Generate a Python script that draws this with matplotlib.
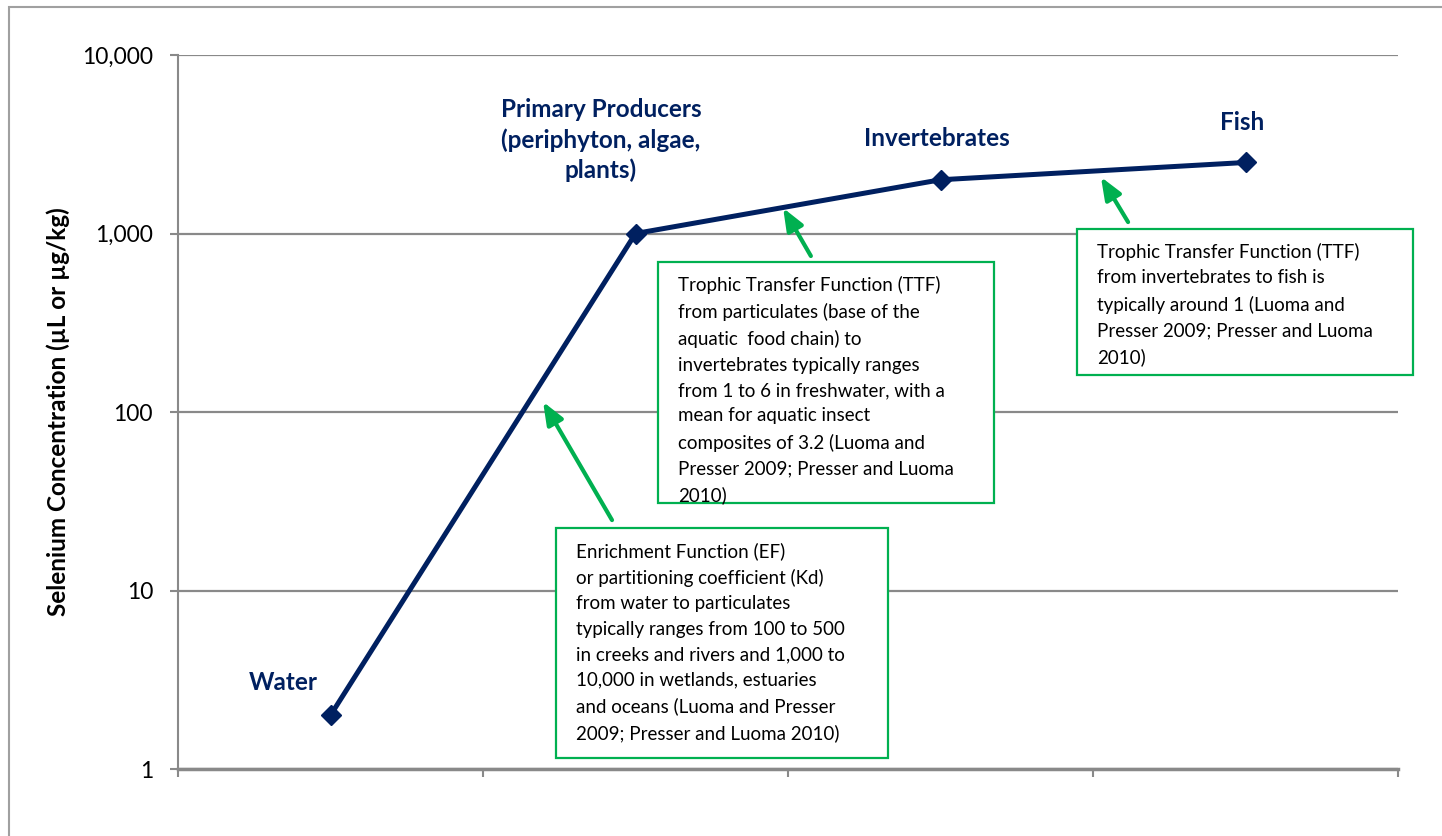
import matplotlib.pyplot as plt
from matplotlib.patches import Rectangle

# dane
stages = ["Water", "Primary Producers\n(periphyton, algae,\nplants)", "Invertebrates", "Fish"]
x_pos = [0.5, 1.5, 2.5, 3.5]
se_conc = [2, 1000, 2000, 2500]
y_ticks = [1, 10, 100, 1000, 10000]
y_ticklabels = ["1", "10", "100", "1,000", "10,000"]

ef_text = ("Enrichment Function (EF)\n"
           "or partitioning coefficient (Kd)\n"
           "from water to particulates\n"
           "typically ranges from 100 to 500\n"
           "in creeks and rivers and 1,000 to\n"
           "10,000 in wetlands, estuaries\n"
           "and oceans (Luoma and Presser\n"
           "2009; Presser and Luoma 2010)")
ttf1_text = ("Trophic Transfer Function (TTF)\n"
             "from particulates (base of the\n"
             "aquatic  food chain) to\n"
             "invertebrates typically ranges\n"
             "from 1 to 6 in freshwater, with a\n"
             "mean for aquatic insect\n"
             "composites of 3.2 (Luoma and\n"
             "Presser 2009; Presser and Luoma\n"
             "2010)")
ttf2_text = ("Trophic Transfer Function (TTF)\n"
             "from invertebrates to fish is\n"
             "typically around 1 (Luoma and\n"
             "Presser 2009; Presser and Luoma\n"
             "2010)")

navy = "#002060"
green = "#00B050"
grey = "#898989"

plt.rcParams['font.family'] = ['Lato', 'DejaVu Sans']

W, H = 1442, 836
fig = plt.figure(figsize=(W / 100, H / 100), dpi=100)

def fx(px):
    return px / W

def fy(py):
    return 1 - py / H

# ramka wokół całego wykresu
fig.patches.append(Rectangle((fx(9), fy(900)), fx(1500), 893 / H, transform=fig.transFigure,
                             fill=False, edgecolor="#a0a0a0", lw=1.5))

ax = fig.add_axes([fx(178), fy(769), fx(1398) - fx(178), (769 - 55) / H])
ax.set_yscale("log")
ax.set_ylim(1, 10000)
ax.set_xlim(0, 4)

ax.plot(x_pos, se_conc, color=navy, lw=3.6, marker="D", markersize=10.5, zorder=5)

ax.set_yticks(y_ticks)
ax.set_yticklabels(y_ticklabels, fontsize=16.5)
ax.yaxis.set_minor_locator(plt.NullLocator())
ax.set_xticks([0, 1, 2, 3, 4])
ax.set_xticklabels([])
ax.tick_params(axis="y", length=6, width=1.5, color=grey, pad=12)
ax.tick_params(axis="x", length=6, width=1.5, color=grey)
ax.grid(axis="y", color=grey, lw=1.6)
ax.set_axisbelow(True)
for s in ["top", "right"]:
    ax.spines[s].set_visible(False)
ax.spines["left"].set_color(grey)
ax.spines["left"].set_linewidth(1.5)
ax.spines["bottom"].set_color(grey)
ax.spines["bottom"].set_linewidth(2.5)

ax.set_ylabel("Selenium Concentration (µL or µg/kg)", fontsize=17.5, fontweight="bold")
ax.yaxis.set_label_coords((70 - 178) / 1220, 0.5)

# etykiety punktów
label_pos = [(283, 683), (601, 140), (937, 138), (1242, 123)]
for lab, (px, py) in zip(stages, label_pos):
    fig.text(fx(px), fy(py), lab, ha="center", va="center", fontsize=17.5, fontweight="bold",
             color=navy, linespacing=1.35)

# pola z opisami
boxes = [(556, 528, 888, 758, ef_text), (658, 262, 994, 503, ttf1_text), (1077, 229, 1413, 375, ttf2_text)]
for x0, y0, x1, y1, txt in boxes:
    fig.patches.append(Rectangle((fx(x0), fy(y1)), fx(x1 - x0), (y1 - y0) / H, transform=fig.transFigure,
                                 facecolor="white", edgecolor=green, lw=1.6, zorder=6))
    fig.text(fx(x0 + 20), fy(y0 + 14), txt, ha="left", va="top", fontsize=13.5, linespacing=1.6,
             zorder=7)

# strzałki
arrows = [((1.197, 114), (1.423, 24.8)), ((1.984, 1390), (2.075, 748)), ((3.026, 2073), (3.115, 1159))]
for tip, tail in arrows:
    ax.annotate("", xy=tip, xytext=tail,
                arrowprops=dict(arrowstyle="-|>,head_length=0.75,head_width=0.3", color=green, lw=3,
                                mutation_scale=18, shrinkA=0, shrinkB=0), zorder=8)

plt.savefig("out.png", dpi=100)
